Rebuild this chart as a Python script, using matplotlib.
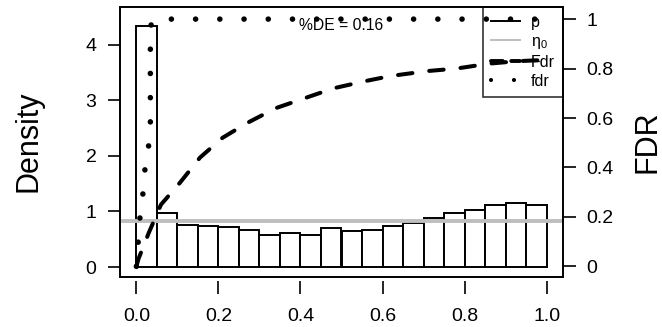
import matplotlib
matplotlib.use("Agg")
import matplotlib.pyplot as plt
from matplotlib.lines import Line2D
from matplotlib.patches import Rectangle

plt.rcParams['font.family'] = ['Liberation Sans', 'DejaVu Sans']
plt.rcParams['mathtext.fontset'] = 'custom'
plt.rcParams['mathtext.rm'] = 'Liberation Sans'

# histogram of p-values (density), 20 bins of width 0.05
bin_left = [0.00, 0.05, 0.10, 0.15, 0.20, 0.25, 0.30, 0.35, 0.40, 0.45,
            0.50, 0.55, 0.60, 0.65, 0.70, 0.75, 0.80, 0.85, 0.90, 0.95]
density = [4.33, 0.97, 0.76, 0.73, 0.72, 0.67, 0.585, 0.62, 0.574, 0.71,
           0.65, 0.67, 0.73, 0.79, 0.88, 0.97, 1.02, 1.12, 1.16, 1.12]
pi0 = 0.83

# Fdr curve (right axis)
Fdr_p = [0, 0.005, 0.03, 0.06, 0.107, 0.155, 0.21, 0.27, 0.34, 0.41, 0.48,
         0.56, 0.62, 0.71, 0.78, 0.86, 0.93, 1.0]
Fdr_v = [0, 0.03, 0.135, 0.25, 0.34, 0.44, 0.52, 0.58, 0.64, 0.68, 0.72,
         0.75, 0.77, 0.79, 0.80, 0.82, 0.83, 0.835]

# fdr curve (right axis)
fdr_p = [0, 0.004, 0.008, 0.015, 0.018, 0.026, 0.034, 0.034, 0.036, 0.042, 1.0]
fdr_v = [0, 0.09, 0.19, 0.27, 0.36, 0.45, 0.53, 0.92, 0.98, 1.0, 1.0]

xticks = [0.0, 0.2, 0.4, 0.6, 0.8, 1.0]
yticks_left = [0, 1, 2, 3, 4]
yticks_right = [0, 0.2, 0.4, 0.6, 0.8, 1]
yticklabels_right = ['0', '0.2', '0.4', '0.6', '0.8', '1']

fig = plt.figure(figsize=(6.62, 3.27), dpi=100)
ax = fig.add_axes([120/662, 50/327, 443/662, 270/327])

ax.bar(bin_left, density, width=0.05, align='edge', color='white',
       edgecolor='black', linewidth=1.4, zorder=2)
ax.axhline(pi0, color='#BEBEBE', linewidth=2.8, zorder=3)

ax.set_xlim(-0.04, 1.04)
ax.set_ylim(-0.18, 4.68)
ax.set_xticks(xticks)
ax.set_xticklabels(['0.0', '0.2', '0.4', '0.6', '0.8', '1.0'])
ax.set_yticks(yticks_left)
ax.tick_params(axis='both', labelsize=14, length=9, width=1.2, color='black')
ax.tick_params(axis='x', pad=10)
ax.tick_params(axis='y', pad=8)

ax2 = ax.twinx()
ax2.set_ylim(-0.043, 1.049)
ax2.set_yticks(yticks_right)
ax2.set_yticklabels(yticklabels_right)
ax2.tick_params(axis='y', labelsize=14, length=9, width=1.2, pad=8)

ax2.plot(Fdr_p, Fdr_v, color='black', linewidth=2.9, linestyle=(0, (3.6, 4.2)),
         dash_capstyle='round', zorder=4)
ax2.plot(fdr_p, fdr_v, color='black', linewidth=4.0, linestyle=(0, (0.01, 4.35)),
         dash_capstyle='round', zorder=4)

for a in (ax, ax2):
    for s in a.spines.values():
        s.set_visible(False)
ax.spines['bottom'].set_position(('outward', 3))
ax.add_patch(Rectangle((0, 0), 1, 1, transform=ax.transAxes, fill=False,
                       edgecolor='black', linewidth=1.4, clip_on=False, zorder=10))

ax2.text(0.5, 0.93, '%DE = 0.16', fontsize=11.3, ha='center', va='center',
         transform=ax2.get_xaxis_transform())

handles = [
    Line2D([], [], color='black', linewidth=1.4),
    Line2D([], [], color='#BEBEBE', linewidth=1.4),
    Line2D([], [], color='black', linewidth=2.8, linestyle=(0, (3, 2.2)),
           dash_capstyle='round'),
    Line2D([], [], color='black', linewidth=3.0, linestyle=(0, (0.01, 5.5)),
           dash_capstyle='round'),
]
labels = ['p', r'η$_0$', 'Fdr', 'fdr']
leg = ax2.legend(handles, labels, loc='upper right', bbox_to_anchor=(1, 1),
                 borderaxespad=0, fontsize=11.5, frameon=True, fancybox=False,
                 handlelength=1.8, handletextpad=0.7, labelspacing=0.25,
                 borderpad=0.5)
leg.get_frame().set_edgecolor('black')
leg.get_frame().set_facecolor('none')
leg.get_frame().set_linewidth(1.2)
leg.set_zorder(3)

fig.text(28/662, 1 - 141/327, 'Density', fontsize=22, rotation=90,
         ha='center', va='center')
fig.text(647/662, 1 - 142/327, 'FDR', fontsize=22, rotation=90,
         ha='center', va='center')

fig.savefig('out.png', dpi=100)
